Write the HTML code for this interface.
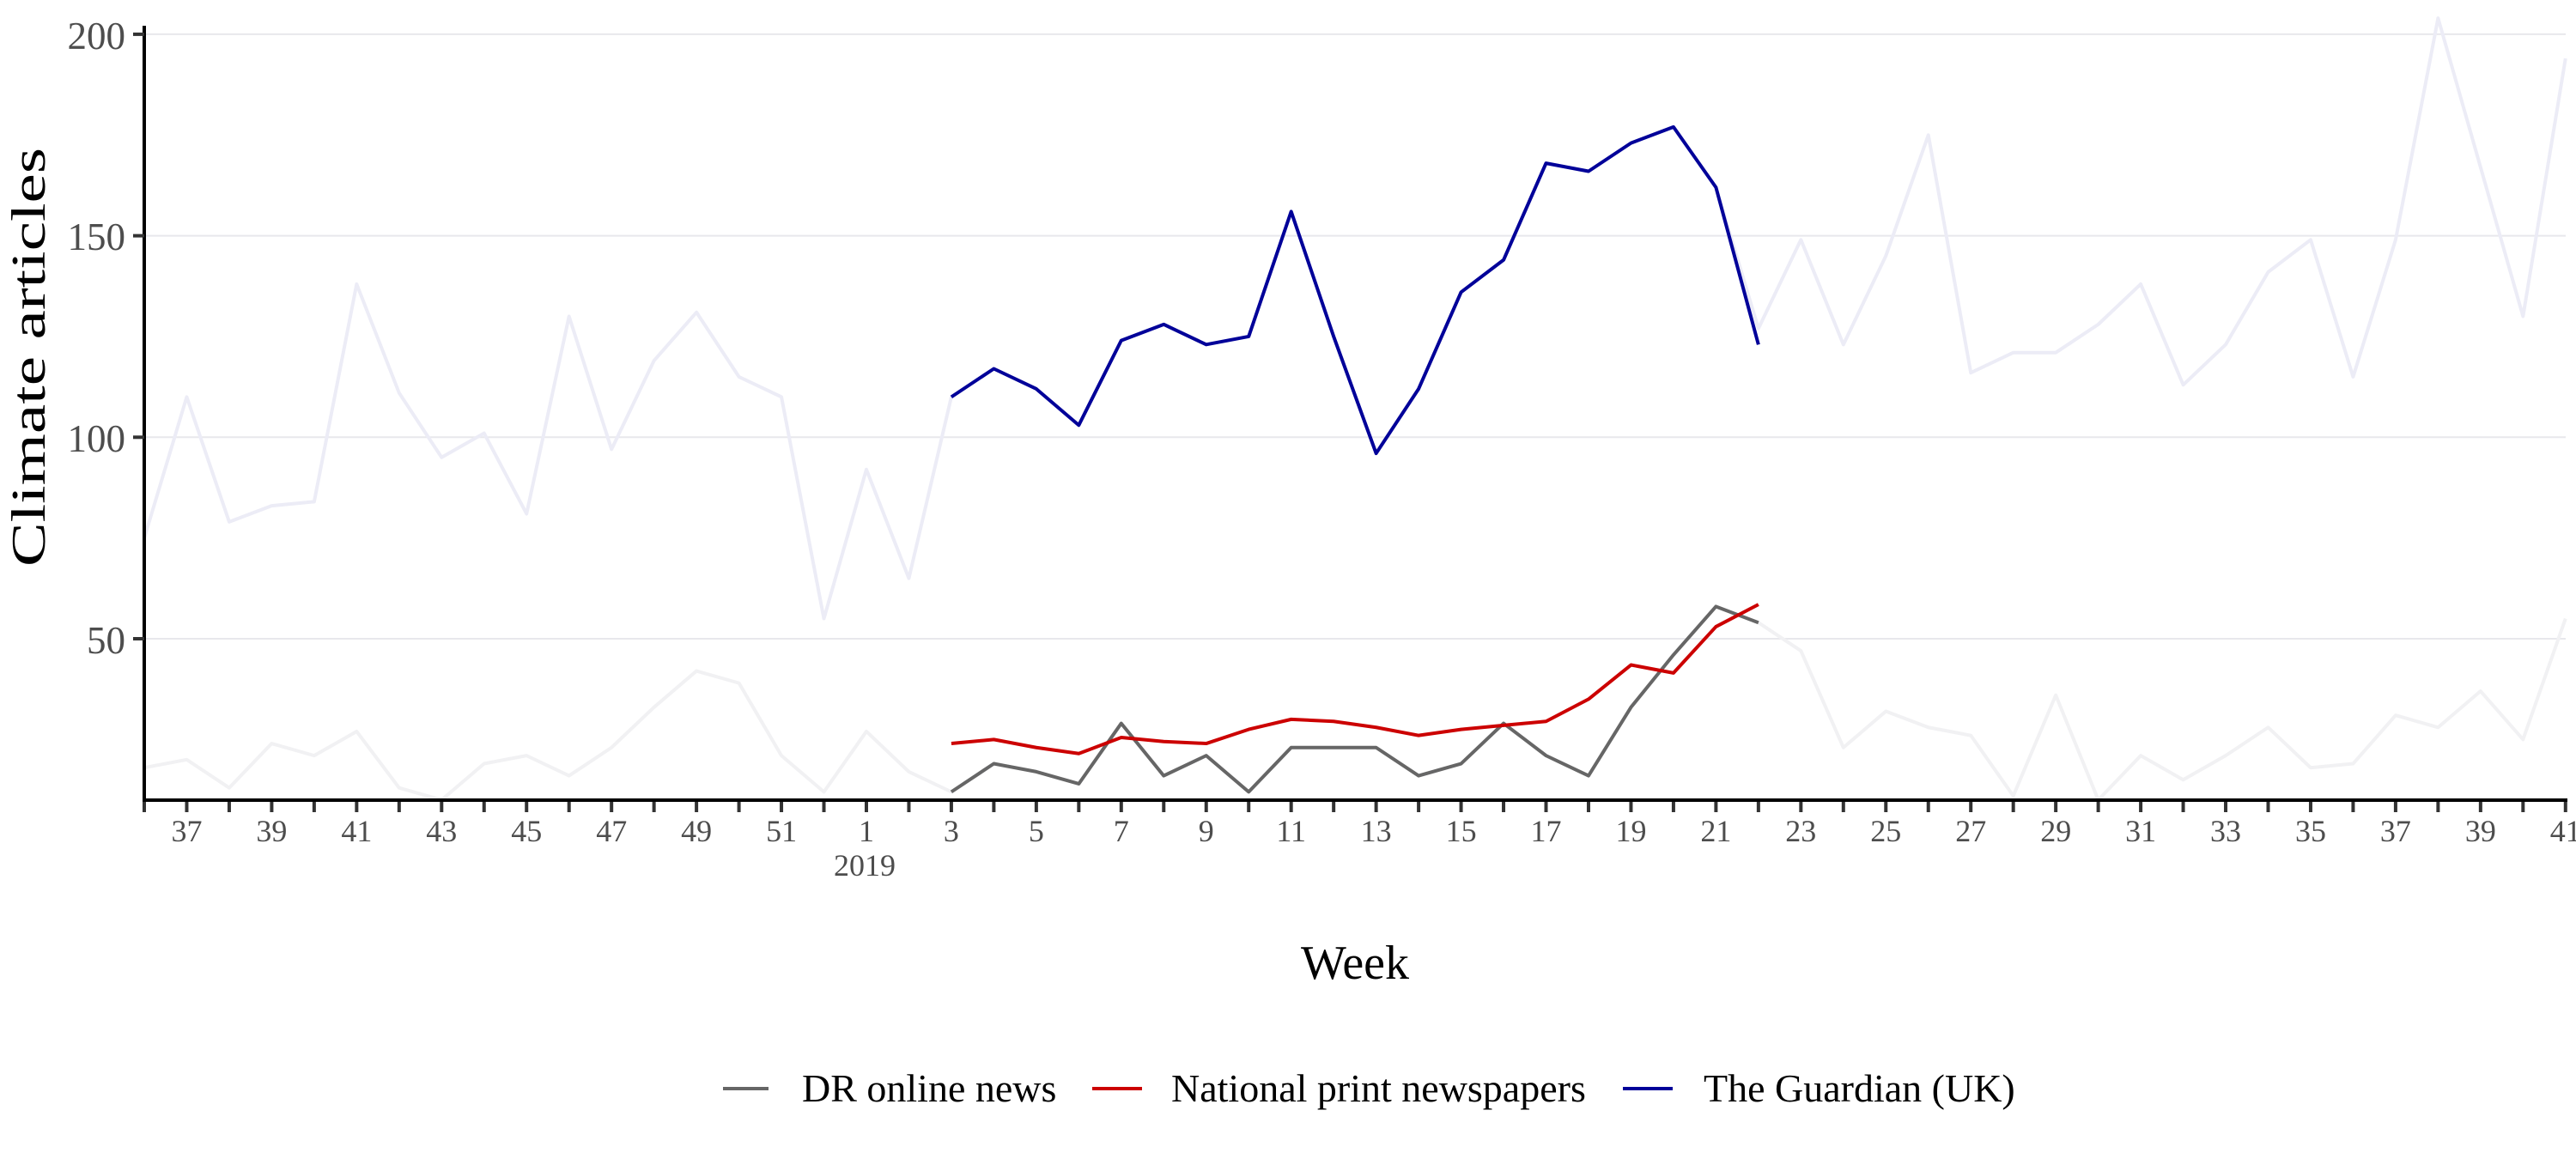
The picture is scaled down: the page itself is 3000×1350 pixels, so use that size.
<!DOCTYPE html>
<html><head><meta charset="utf-8"><style>
html,body{margin:0;padding:0;background:#fff;}
svg{display:block;}
text{font-family:"Liberation Serif",serif;}
</style></head><body>
<svg width="3000" height="1350" viewBox="0 0 3000 1350" xmlns="http://www.w3.org/2000/svg">
<g stroke="#e8e8ec" stroke-width="2">
<line x1="168" x2="2988" y1="744" y2="744"/>
<line x1="168" x2="2988" y1="509.3" y2="509.3"/>
<line x1="168" x2="2988" y1="274.6" y2="274.6"/>
<line x1="168" x2="2988" y1="39.9" y2="39.9"/>
</g>
<g transform="matrix(49.47,0,0,-4.694,168,978.7)" fill="none" stroke-linejoin="round">
<polyline vector-effect="non-scaling-stroke" stroke="#f1f1f3" stroke-width="4" points="0,18 1,20 2,13 3,24 4,21 5,27 6,13 7,10 8,19 9,21 10,16 11,23 12,33 13,42 14,39 15,21 16,12 17,27 18,17 19,12 20,19 21,17 22,14 23,29 24,16 25,21 26,12 27,23 28,23 29,23 30,16 31,19 32,29 33,21 34,16 35,33 36,46 37,58 38,54 39,47 40,23 41,32 42,28 43,26 44,11 45,36 46,10 47,21 48,15 49,21 50,28 51,18 52,19 53,31 54,28 55,37 56,25 57,55"/>
<polyline vector-effect="non-scaling-stroke" stroke="#ececf6" stroke-width="4" points="0,75 1,110 2,79 3,83 4,84 5,138 6,111 7,95 8,101 9,81 10,130 11,97 12,119 13,131 14,115 15,110 16,55 17,92 18,65 19,110 20,117 21,112 22,103 23,124 24,128 25,123 26,125 27,156 28,125 29,96 30,112 31,136 32,144 33,168 34,166 35,173 36,177 37,162 38,127 39,149 40,123 41,145 42,175 43,116 44,121 45,121 46,128 47,138 48,113 49,123 50,141 51,149 52,115 53,149 54,204 55,167 56,130 57,194"/>
<polyline vector-effect="non-scaling-stroke" stroke="#666666" stroke-width="4" points="19,12 20,19 21,17 22,14 23,29 24,16 25,21 26,12 27,23 28,23 29,23 30,16 31,19 32,29 33,21 34,16 35,33 36,46 37,58 38,54"/>
<polyline vector-effect="non-scaling-stroke" stroke="#cc0000" stroke-width="4" points="19,24 20,25 21,23 22,21.5 23,25.5 24,24.5 25,24 26,27.5 27,30 28,29.5 29,28 30,26 31,27.5 32,28.5 33,29.5 34,35 35,43.5 36,41.5 37,53 38,58.5"/>
<polyline vector-effect="non-scaling-stroke" stroke="#000099" stroke-width="4" points="19,110 20,117 21,112 22,103 23,124 24,128 25,123 26,125 27,156 28,125 29,96 30,112 31,136 32,144 33,168 34,166 35,173 36,177 37,162 38,123"/>
</g>
<line x1="168" y1="30" x2="168" y2="934" stroke="#000" stroke-width="4"/>
<line x1="166" y1="932" x2="2990" y2="932" stroke="#000" stroke-width="4"/>
<line x1="166" y1="940" x2="2992" y2="940" stroke="#333" stroke-width="12" stroke-dasharray="4 45.47"/>
<g stroke="#333" stroke-width="4">
<line x1="155" x2="168" y1="744" y2="744"/><line x1="155" x2="168" y1="509.3" y2="509.3"/>
<line x1="155" x2="168" y1="274.6" y2="274.6"/><line x1="155" x2="168" y1="39.9" y2="39.9"/>
</g>
<g font-size="45" fill="#4d4d4d" text-anchor="end">
<text x="146" y="761">50</text><text x="146" y="526">100</text><text x="146" y="291">150</text><text x="146" y="57">200</text>
</g>
<g font-size="36" fill="#4d4d4d" text-anchor="middle">
<text x="217.5" y="980">37</text><text x="316.4" y="980">39</text><text x="415.4" y="980">41</text><text x="514.3" y="980">43</text><text x="613.2" y="980">45</text><text x="712.2" y="980">47</text><text x="811.1" y="980">49</text><text x="910.1" y="980">51</text><text x="1009" y="980">1</text><text x="1107.9" y="980">3</text><text x="1206.9" y="980">5</text><text x="1305.8" y="980">7</text><text x="1404.8" y="980">9</text><text x="1503.7" y="980">11</text><text x="1602.6" y="980">13</text><text x="1701.6" y="980">15</text><text x="1800.5" y="980">17</text><text x="1899.5" y="980">19</text><text x="1998.4" y="980">21</text><text x="2097.3" y="980">23</text><text x="2196.3" y="980">25</text><text x="2295.2" y="980">27</text><text x="2394.2" y="980">29</text><text x="2493.1" y="980">31</text><text x="2592" y="980">33</text><text x="2691" y="980">35</text><text x="2789.9" y="980">37</text><text x="2888.9" y="980">39</text><text x="2987.8" y="980">41</text>
<text x="1007" y="1020">2019</text>
</g>
<text x="1578" y="1140" font-size="56" text-anchor="middle" fill="#000">Week</text>
<text transform="translate(52,416) rotate(-90)" font-size="56" text-anchor="middle" fill="#000" textLength="488" lengthAdjust="spacingAndGlyphs">Climate articles</text>
<g stroke-width="4">
<line x1="842" x2="895" y1="1268" y2="1268" stroke="#666"/>
<line x1="1272" x2="1330" y1="1268" y2="1268" stroke="#cc0000"/>
<line x1="1890" x2="1948" y1="1268" y2="1268" stroke="#000099"/>
</g>
<g font-size="46" fill="#000">
<text x="934" y="1283">DR online news</text>
<text x="1364" y="1283">National print newspapers</text>
<text x="1984" y="1283">The Guardian (UK)</text>
</g>
</svg>
</body></html>
